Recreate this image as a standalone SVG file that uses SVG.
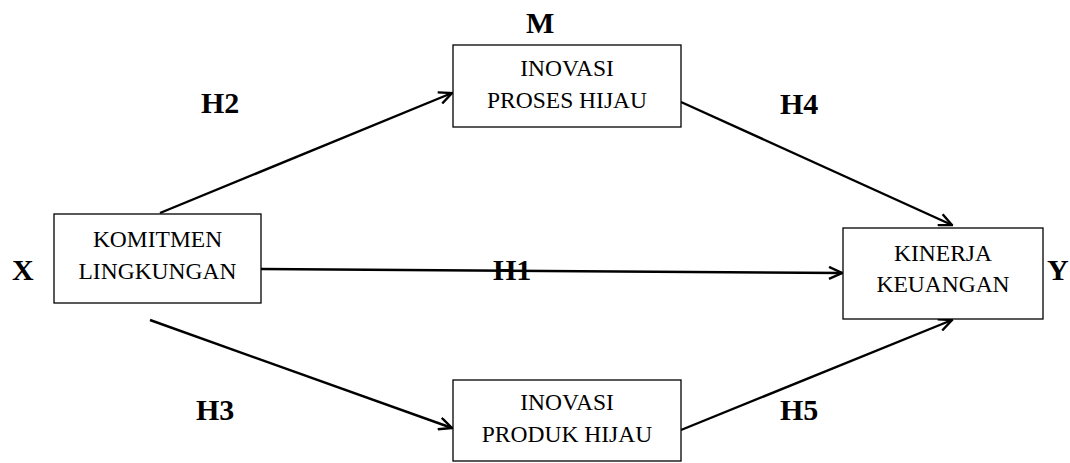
<svg xmlns="http://www.w3.org/2000/svg" width="1070" height="463" viewBox="0 0 1070 463">
<style>
.box{fill:#fff;stroke:#000;stroke-width:1.3}
.t{font-family:"Liberation Serif","Times New Roman",serif;font-size:23.5px;text-anchor:middle;fill:#000}
.lb{font-family:"Liberation Serif","Times New Roman",serif;font-size:30px;font-weight:bold;fill:#000}
.c{stroke:#000;stroke-width:2.4;fill:none}
</style>
<defs>
<marker id="ah" viewBox="0 0 16 14" refX="14.5" refY="7" markerWidth="16" markerHeight="14" markerUnits="userSpaceOnUse" orient="auto">
<path d="M1.5,1 L14.5,7 L1.5,13" fill="none" stroke="#000" stroke-width="2.4"/>
</marker>
</defs>
<rect width="1070" height="463" fill="#fff"/>
<g id="connectors">
<line class="c" x1="160" y1="213" x2="452" y2="93" marker-end="url(#ah)"/>
<line class="c" x1="681" y1="102" x2="952" y2="225" marker-end="url(#ah)"/>
<line class="c" x1="261" y1="269" x2="842" y2="273" marker-end="url(#ah)"/>
<line class="c" x1="150" y1="320" x2="452" y2="428" marker-end="url(#ah)"/>
<line class="c" x1="681" y1="430" x2="952" y2="320" marker-end="url(#ah)"/>
</g>
<g id="node-x">
<rect class="box" x="54" y="214" width="207" height="89"/>
<text class="t" x="157.5" y="247">KOMITMEN</text>
<text class="t" x="157.5" y="279">LINGKUNGAN</text>
</g>
<g id="node-m1">
<rect class="box" x="453" y="45" width="228" height="82"/>
<text class="t" x="567" y="76">INOVASI</text>
<text class="t" x="567" y="108">PROSES HIJAU</text>
</g>
<g id="node-m2">
<rect class="box" x="453" y="380" width="228" height="81"/>
<text class="t" x="567" y="410">INOVASI</text>
<text class="t" x="567" y="442">PRODUK HIJAU</text>
</g>
<g id="node-y">
<rect class="box" x="843" y="228" width="200" height="91"/>
<text class="t" x="943" y="261">KINERJA</text>
<text class="t" x="943" y="292">KEUANGAN</text>
</g>
<g id="labels">
<text class="lb" x="12" y="280">X</text>
<text class="lb" x="1047" y="280">Y</text>
<text class="lb" x="526" y="33">M</text>
<text class="lb" x="201" y="113">H2</text>
<text class="lb" x="780" y="114">H4</text>
<text class="lb" x="493" y="280">H1</text>
<text class="lb" x="196" y="420">H3</text>
<text class="lb" x="780" y="420">H5</text>
</g>
</svg>
